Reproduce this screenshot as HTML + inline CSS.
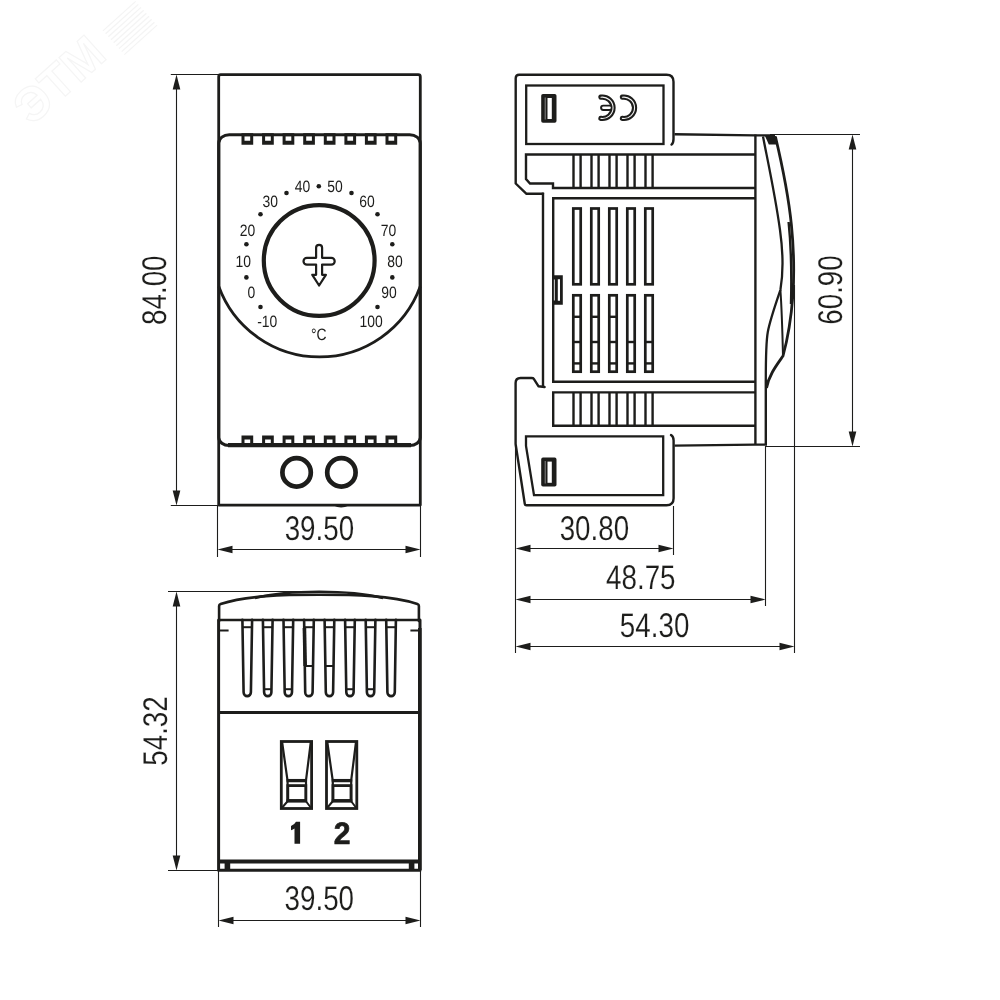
<!DOCTYPE html>
<html>
<head>
<meta charset="utf-8">
<title>Dimension drawing</title>
<style>
html,body{margin:0;padding:0;background:#fff;}
body{width:1000px;height:1000px;overflow:hidden;font-family:"Liberation Sans",sans-serif;}
svg{display:block;position:absolute;left:0;top:0;will-change:transform;}
text{font-family:"Liberation Sans",sans-serif;fill:#1d1d1b;text-rendering:geometricPrecision;}
.k{stroke:#1d1d1b;fill:none;stroke-linecap:butt;stroke-linejoin:miter;}
.r{stroke-linejoin:round;stroke-linecap:round;}
.t{stroke-width:1.1;}
.n{stroke-width:1.7;}
.m{stroke-width:2.8;}
.b{stroke-width:3.1;}
.s{stroke-width:2.4;}
.f{fill:#1d1d1b;stroke:none;}
.w{fill:#fff;}
</style>
</head>
<body>
<svg width="1000" height="1000" viewBox="0 0 1000 1000">
<rect x="0" y="0" width="1000" height="1000" fill="#fff"/>

<g transform="translate(70 92) rotate(-42)" opacity="1">
<text x="0" y="0" font-size="48" font-weight="bold" text-anchor="middle" fill="none" stroke="#f5f5f5" stroke-width="1.2" style="fill:none">ЭТМ</text>
</g>
<g transform="translate(130 28) rotate(-42)" stroke="#f4f4f4" stroke-width="1.2" fill="none">
<path d="M-22 -16 H22"/>
<path d="M-22 -12 H22"/>
<path d="M-22 -8 H22"/>
<path d="M-22 -4 H22"/>
<path d="M-22 0 H22"/>
<path d="M-22 4 H22"/>
<path d="M-22 8 H22"/>
<path d="M-22 12 H22"/>
<path d="M-22 16 H22"/>
</g>
<g id="front">
<path class="k m r" d="M218.7 505.1 V76.7 Q218.7 74.7 220.7 74.7 H418.3 Q420.3 74.7 420.3 76.7 V505.1 Z"/>
<path class="k b r" d="M218.8 437.5 V143 A10.5 8.3 0 0 1 229.3 134.7 H409.7 A10.5 8.3 0 0 1 420.2 143 V437.5 A10.5 8 0 0 1 409.7 445.5 H229.3 A10.5 8 0 0 1 218.8 437.5 Z"/>
<path class="f" fill-rule="evenodd" d="M241.5 133.2 H253.2 V144.8 H241.5 Z M244.5 136.3 V140.8 H250.2 V136.3 Z"/>
<path class="f" fill-rule="evenodd" d="M262.1 133.2 H273.8 V144.8 H262.1 Z M265.1 136.3 V140.8 H270.8 V136.3 Z"/>
<path class="f" fill-rule="evenodd" d="M282.6 133.2 H294.3 V144.8 H282.6 Z M285.6 136.3 V140.8 H291.3 V136.3 Z"/>
<path class="f" fill-rule="evenodd" d="M303.2 133.2 H314.9 V144.8 H303.2 Z M306.2 136.3 V140.8 H311.9 V136.3 Z"/>
<path class="f" fill-rule="evenodd" d="M323.8 133.2 H335.5 V144.8 H323.8 Z M326.8 136.3 V140.8 H332.5 V136.3 Z"/>
<path class="f" fill-rule="evenodd" d="M344.4 133.2 H356.1 V144.8 H344.4 Z M347.4 136.3 V140.8 H353.1 V136.3 Z"/>
<path class="f" fill-rule="evenodd" d="M364.9 133.2 H376.6 V144.8 H364.9 Z M367.9 136.3 V140.8 H373.6 V136.3 Z"/>
<path class="f" fill-rule="evenodd" d="M385.5 133.2 H397.2 V144.8 H385.5 Z M388.5 136.3 V140.8 H394.2 V136.3 Z"/>
<path class="f" fill-rule="evenodd" d="M241.5 435.4 H253.2 V447.0 H241.5 Z M244.5 439.4 V443.9 H250.2 V439.4 Z"/>
<path class="f" fill-rule="evenodd" d="M262.1 435.4 H273.8 V447.0 H262.1 Z M265.1 439.4 V443.9 H270.8 V439.4 Z"/>
<path class="f" fill-rule="evenodd" d="M282.6 435.4 H294.3 V447.0 H282.6 Z M285.6 439.4 V443.9 H291.3 V439.4 Z"/>
<path class="f" fill-rule="evenodd" d="M303.2 435.4 H314.9 V447.0 H303.2 Z M306.2 439.4 V443.9 H311.9 V439.4 Z"/>
<path class="f" fill-rule="evenodd" d="M323.8 435.4 H335.5 V447.0 H323.8 Z M326.8 439.4 V443.9 H332.5 V439.4 Z"/>
<path class="f" fill-rule="evenodd" d="M344.4 435.4 H356.1 V447.0 H344.4 Z M347.4 439.4 V443.9 H353.1 V439.4 Z"/>
<path class="f" fill-rule="evenodd" d="M364.9 435.4 H376.6 V447.0 H364.9 Z M367.9 439.4 V443.9 H373.6 V439.4 Z"/>
<path class="f" fill-rule="evenodd" d="M385.5 435.4 H397.2 V447.0 H385.5 Z M388.5 439.4 V443.9 H394.2 V439.4 Z"/>
<path class="k" stroke-width="4.2" d="M228 445.1 H411"/>
<circle class="k" cx="319.2" cy="260.5" r="55.4" stroke-width="4.2"/>
<path class="k m" d="M218.8 286.5 A107.2 107.2 0 0 0 420.2 286.5"/>
<path class="k r" stroke-width="2.2" transform="translate(0 0.7)" d="M316.1 257.1 V247.1 A3 3 0 0 1 322.1 247.1 V257.1 H331.3 A3.4 3.4 0 0 1 331.3 263.9 H322.1 V274.1 H325.9 L319.1 284.8 L312.3 274.1 H316.1 V263.9 H306.9 A3.4 3.4 0 0 1 306.9 257.1 Z"/>
<text class="" transform="translate(302.6 192.0) scale(0.85 1)" font-size="16.4" text-anchor="middle" >40</text>
<text class="" transform="translate(335 192.0) scale(0.85 1)" font-size="16.4" text-anchor="middle" >50</text>
<text class="" transform="translate(270.2 207.3) scale(0.85 1)" font-size="16.4" text-anchor="middle" >30</text>
<text class="" transform="translate(367.1 207.3) scale(0.85 1)" font-size="16.4" text-anchor="middle" >60</text>
<text class="" transform="translate(247.6 236.3) scale(0.85 1)" font-size="16.4" text-anchor="middle" >20</text>
<text class="" transform="translate(388.4 236.3) scale(0.85 1)" font-size="16.4" text-anchor="middle" >70</text>
<text class="" transform="translate(243.2 266.9) scale(0.85 1)" font-size="16.4" text-anchor="middle" >10</text>
<text class="" transform="translate(395 266.9) scale(0.85 1)" font-size="16.4" text-anchor="middle" >80</text>
<text class="" transform="translate(251.3 298.4) scale(0.85 1)" font-size="16.4" text-anchor="middle" >0</text>
<text class="" transform="translate(388.9 298.4) scale(0.85 1)" font-size="16.4" text-anchor="middle" >90</text>
<text class="" transform="translate(267.3 326.8) scale(0.85 1)" font-size="16.4" text-anchor="middle" >-10</text>
<text class="" transform="translate(371 326.8) scale(0.85 1)" font-size="16.4" text-anchor="middle" >100</text>
<text class="" transform="translate(318.8 340.4) scale(0.85 1)" font-size="16.4" text-anchor="middle" >°C</text>
<circle class="f" cx="318.8" cy="186.2" r="2.3"/>
<circle class="f" cx="286.5" cy="193" r="2.3"/>
<circle class="f" cx="351.5" cy="193" r="2.3"/>
<circle class="f" cx="260.5" cy="214.2" r="2.3"/>
<circle class="f" cx="377.5" cy="214.2" r="2.3"/>
<circle class="f" cx="246.4" cy="244.3" r="2.3"/>
<circle class="f" cx="392.3" cy="244.3" r="2.3"/>
<circle class="f" cx="246.4" cy="277.4" r="2.3"/>
<circle class="f" cx="392.3" cy="277.4" r="2.3"/>
<circle class="f" cx="260.5" cy="307" r="2.3"/>
<circle class="f" cx="377.5" cy="307" r="2.3"/>
<path class="f" d="M333.6 505.5 Q341 509.3 348.8 505.5 Z"/>
<circle class="k" cx="296.6" cy="472.4" r="14.2" stroke-width="4.7"/>
<circle class="k" cx="341.4" cy="472.4" r="14.2" stroke-width="4.7"/>
<path class="k t" d="M170.8 74.5 H219 M170.8 505.5 H219"/>
<path class="k t" d="M176.5 87.5 V492.5"/>
<path class="f" d="M176.5 74.5 L172.7 89.5 H180.3 Z"/>
<path class="f" d="M176.5 505.5 L172.7 490.5 H180.3 Z"/>
<text transform="translate(166 290.2) rotate(-90) scale(0.81 1)" font-size="34.3" text-anchor="middle" stroke="#fff" stroke-width="0.15">84.00</text>
<path class="k t" d="M217.5 505 V557 M420.5 505 V557"/>
<path class="k t" d="M230.5 549.5 H407.5"/>
<path class="f" d="M217.5 549.5 L232.5 545.7 V553.3 Z"/>
<path class="f" d="M420.5 549.5 L405.5 545.7 V553.3 Z"/>
<text class="" transform="translate(319.4 539.6) scale(0.81 1)" font-size="34.3" text-anchor="middle" stroke="#fff" stroke-width="0.15">39.50</text>
</g>
<g id="side">
<path class="k s r" d="M543 193.8 H526.5 L515.7 183.5 V78.3 Q515.7 74.8 519.2 74.8 H666.5 Q673.5 74.8 673.5 81.8 V139 Q673.5 143 671.5 144.6"/>
<path class="k s" d="M543 192.6 V386.8"/>
<rect class="k" stroke-width="2.3" x="526.2" y="85.5" width="137.3" height="58.5"/>
<rect class="f" x="541.2" y="94" width="15.3" height="28.8" rx="1.8"/>
<rect class="w" x="547.5" y="98" width="4.3" height="21"/>
<path class="k" style="stroke:#b5b5b5" stroke-width="0.7" d="M545.2 97.5 V119.5"/>
<path class="k r" stroke-width="5.2" d="M600.9 97.2 A10.7 10.7 0 1 1 600.9 118.4"/>
<path class="k r" stroke-width="5.2" d="M622.4 97.2 A10.7 10.7 0 1 1 622.4 118.4"/>
<path class="k r" stroke-width="6.2" d="M603.2 107.8 H609"/>
<path class="k r" style="stroke:#f4f4f4" stroke-width="1.1" d="M600.9 97.2 A10.7 10.7 0 1 1 600.9 118.4"/>
<path class="k r" style="stroke:#f4f4f4" stroke-width="1.1" d="M622.4 97.2 A10.7 10.7 0 1 1 622.4 118.4"/>
<path class="k r" style="stroke:#fff" stroke-width="2.6" d="M603.4 107.8 H609.5"/>
<path class="k s" d="M674.5 134.2 L755 135.4 H775"/>
<path class="k t" d="M770 134.5 H860"/>
<path class="k s" d="M755.4 154.5 H526 V179 L530 183.5 H553 V188 H755.4"/>
<path class="k s" d="M755.4 198.2 H553.2 V381.8 H755.4"/>
<path class="k s" d="M755.4 392.4 H553.2 V425.7 H755.4"/>
<path class="k s" d="M573.5 154.5 V188 M580.6 154.5 V188 M573.5 392.4 V425.7 M580.6 392.4 V425.7"/>
<rect class="k" stroke-width="2.7" x="573.3" y="208.5" width="7.4" height="75.8"/>
<rect class="k" stroke-width="2.7" x="573.3" y="295.3" width="7.4" height="76.4"/>
<path class="k s" d="M573.5 342 H580.6"/>
<path class="k s" d="M573.5 363.4 H580.6"/>
<path class="k s" d="M573.5 316.8 H580.6"/>
<path class="k s" d="M591.5 154.5 V188 M598.6 154.5 V188 M591.5 392.4 V425.7 M598.6 392.4 V425.7"/>
<rect class="k" stroke-width="2.7" x="591.3" y="208.5" width="7.4" height="75.8"/>
<rect class="k" stroke-width="2.7" x="591.3" y="295.3" width="7.4" height="76.4"/>
<path class="k s" d="M591.5 342 H598.6"/>
<path class="k s" d="M591.5 363.4 H598.6"/>
<path class="k s" d="M591.5 316.8 H598.6"/>
<path class="k s" d="M609.5 154.5 V188 M616.6 154.5 V188 M609.5 392.4 V425.7 M616.6 392.4 V425.7"/>
<rect class="k" stroke-width="2.7" x="609.3" y="208.5" width="7.4" height="75.8"/>
<rect class="k" stroke-width="2.7" x="609.3" y="295.3" width="7.4" height="76.4"/>
<path class="k s" d="M609.5 342 H616.6"/>
<path class="k s" d="M609.5 363.4 H616.6"/>
<path class="k s" d="M609.5 316.8 H616.6"/>
<path class="k s" d="M627.5 154.5 V188 M634.6 154.5 V188 M627.5 392.4 V425.7 M634.6 392.4 V425.7"/>
<rect class="k" stroke-width="2.7" x="627.3" y="208.5" width="7.4" height="75.8"/>
<rect class="k" stroke-width="2.7" x="627.3" y="295.3" width="7.4" height="76.4"/>
<path class="k s" d="M627.5 342 H634.6"/>
<path class="k s" d="M627.5 363.4 H634.6"/>
<path class="k s" d="M645.5 154.5 V188 M652.6 154.5 V188 M645.5 392.4 V425.7 M652.6 392.4 V425.7"/>
<rect class="k" stroke-width="2.7" x="645.3" y="208.5" width="7.4" height="75.8"/>
<rect class="k" stroke-width="2.7" x="645.3" y="295.3" width="7.4" height="76.4"/>
<path class="k s" d="M645.5 342 H652.6"/>
<path class="k s" d="M645.5 363.4 H652.6"/>
<path class="f" fill-rule="evenodd" d="M552 275.3 H562.8 V304.8 H552 Z M557.8 279.2 V300.8 H560 V279.2 Z"/>
<path class="k" style="stroke:#c8c8c8" stroke-width="1.1" d="M554.4 279.5 V300.5"/>
<path class="k s" d="M755.4 134.5 V444.6"/>
<path class="k s" d="M765.8 380 V444.6"/>
<path class="k s r" d="M544.6 387 L538.4 386.2 L533.8 378.8 Q533.3 378 531.5 378 H520.5 Q515.6 378 515.6 383 V444 L524.8 504 Q525 505.3 526.5 505.3 H666.5 Q673.6 505.3 673.6 498.3 V440.5 Q673.6 436.5 671 435"/>
<path class="k" stroke-width="2.3" d="M526 436.4 H663.2 V495.2 H534 L526 446 Z"/>
<rect class="f" x="541.2" y="457.6" width="15.3" height="29" rx="1.8"/>
<rect class="w" x="547.5" y="461.6" width="4.3" height="21.2"/>
<path class="k" style="stroke:#b5b5b5" stroke-width="0.7" d="M545.2 461 V483.5"/>
<path class="k s" d="M674.5 445.6 L755 444.6 H767"/>
<path class="k t" d="M765.5 446.5 H860"/>
<path class="k" stroke-width="2.3" d="M763 136.5 C767.5 160 775.2 195 780 230 C783.5 255 783 275 780.4 290 C777 300 770 320 767.8 332 C766 342 765.8 360 765.8 380"/>
<path class="k" stroke-width="2" d="M780.4 290 C781.5 305 782.5 335 783 356"/>
<path class="k" stroke-width="2.8" d="M775.4 136.5 C780.5 158 788.4 195 791.4 225 C793.9 250 794.2 275 792.9 295 C791.4 315 787.4 340 783 356 C776 366 769 375 766.5 388"/>
<path class="k" stroke-width="2.4" d="M788.6 222 C791 245 791.6 280 791 304"/>
<path class="f" d="M765 136 H775.8 L778 144.6 H768.8 Z"/>
<path class="k t" d="M852.5 147.5 V433.5"/>
<path class="f" d="M852.5 134.5 L848.7 149.5 H856.3 Z"/>
<path class="f" d="M852.5 446.5 L848.7 431.5 H856.3 Z"/>
<text transform="translate(842 290) rotate(-90) scale(0.81 1)" font-size="34.3" text-anchor="middle" stroke="#fff" stroke-width="0.15">60.90</text>
<path class="k t" d="M515.5 445 V653 M673.5 506 V555 M765.5 446 V606 M794.5 285 V653"/>
<path class="k t" d="M528.5 548.5 H660.5"/>
<path class="f" d="M515.5 548.5 L530.5 544.7 V552.3 Z"/>
<path class="f" d="M673.5 548.5 L658.5 544.7 V552.3 Z"/>
<path class="k t" d="M528.5 599.5 H752.5"/>
<path class="f" d="M515.5 599.5 L530.5 595.7 V603.3 Z"/>
<path class="f" d="M765.5 599.5 L750.5 595.7 V603.3 Z"/>
<path class="k t" d="M528.5 646.5 H781.5"/>
<path class="f" d="M515.5 646.5 L530.5 642.7 V650.3 Z"/>
<path class="f" d="M794.5 646.5 L779.5 642.7 V650.3 Z"/>
<text class="" transform="translate(594.4 540) scale(0.81 1)" font-size="34.3" text-anchor="middle" stroke="#fff" stroke-width="0.15">30.80</text>
<text class="" transform="translate(640.8 589) scale(0.81 1)" font-size="34.3" text-anchor="middle" stroke="#fff" stroke-width="0.15">48.75</text>
<text class="" transform="translate(654.6 637) scale(0.81 1)" font-size="34.3" text-anchor="middle" stroke="#fff" stroke-width="0.15">54.30</text>
</g>
<g id="bottom">
<path class="k r" stroke-width="2.6" d="M219.1 621 V606 Q219.1 604.4 220.6 603.9 C247 595.5 283 594.7 319.2 594.7 C355 594.7 391 595.5 417.4 603.9 Q418.9 604.4 418.9 606 V621"/>
<path class="k r" stroke-width="3" d="M218.6 620 V870.2 H420 V620"/>
<path class="k" stroke-width="2.5" d="M255 598 C278 592.4 298 591.8 319.2 591.8 C340 591.8 360 592.4 383 598"/>
<path class="k" stroke-width="3.6" d="M419.8 628 V870"/>
<path class="k" stroke-width="2.6" d="M218.8 620 H420.2"/>
<path class="k" stroke-width="2" d="M219 630.4 H228.6 M410.4 630.4 H420"/>
<path class="k" stroke-width="3" d="M218.8 712.4 H420.2"/>
<path class="k" stroke-width="4" d="M218.6 861.4 H420"/>
<path class="f" d="M224.6 861 H230.2 V870 H224.6 Z M408.8 861 H414.4 V870 H408.8 Z"/>
<path class="k r" stroke-width="2.6" d="M242.4 619.8 L243.6 692.3 A3.65 3.8 0 0 0 250.9 692.3 L252.1 619.8"/>
<path class="k" stroke-width="2" d="M242.4 627.2 H252.1"/>
<path class="k r" stroke-width="2.6" d="M262.9 619.8 L264.1 692.3 A3.65 3.8 0 0 0 271.4 692.3 L272.6 619.8"/>
<path class="k" stroke-width="2" d="M262.9 627.2 H272.6"/>
<path class="k" stroke-width="2" d="M264.4 689.2 H271.1"/>
<path class="k r" stroke-width="2.6" d="M283.5 619.8 L284.7 692.3 A3.65 3.8 0 0 0 292.0 692.3 L293.2 619.8"/>
<path class="k" stroke-width="2" d="M283.5 627.2 H293.2"/>
<path class="k" stroke-width="2" d="M285.0 689.2 H291.7"/>
<path class="k r" stroke-width="2.6" d="M304.1 619.8 L305.2 692.3 A3.65 3.8 0 0 0 312.6 692.3 L313.8 619.8"/>
<path class="k" stroke-width="2" d="M304.1 627.2 H313.8"/>
<path class="k" stroke-width="2" d="M305.1 666 H312.8"/>
<path class="k" stroke-width="3.6" d="M304.4 628 L305.2 666"/>
<path class="k r" stroke-width="2.6" d="M324.6 619.8 L325.8 692.3 A3.65 3.8 0 0 0 333.1 692.3 L334.3 619.8"/>
<path class="k" stroke-width="2" d="M324.6 627.2 H334.3"/>
<path class="k" stroke-width="2" d="M325.6 666 H333.3"/>
<path class="k r" stroke-width="2.6" d="M345.1 619.8 L346.3 692.3 A3.65 3.8 0 0 0 353.6 692.3 L354.8 619.8"/>
<path class="k" stroke-width="2" d="M345.1 627.2 H354.8"/>
<path class="k" stroke-width="2" d="M346.6 689.2 H353.3"/>
<path class="k r" stroke-width="2.6" d="M365.7 619.8 L366.9 692.3 A3.65 3.8 0 0 0 374.2 692.3 L375.4 619.8"/>
<path class="k" stroke-width="2" d="M365.7 627.2 H375.4"/>
<path class="k" stroke-width="2" d="M367.2 689.2 H373.9"/>
<path class="k r" stroke-width="2.6" d="M386.2 619.8 L387.4 692.3 A3.65 3.8 0 0 0 394.8 692.3 L395.9 619.8"/>
<path class="k" stroke-width="2" d="M386.2 627.2 H395.9"/>
<rect class="k" stroke-width="2.8" x="281.3" y="741.5" width="30.3" height="67"/>
<path class="k" stroke-width="2.2" d="M282.1 742 L287.5 780.4 M310.8 742 L306.0 780.4"/>
<path class="k" stroke-width="3.3" d="M286.5 780.6 H307.0"/>
<rect class="k" stroke-width="2.8" x="287.8" y="785.6" width="18" height="15.2"/>
<path class="k" stroke-width="3.4" d="M286.6 800.8 H307.0"/>
<path class="k" stroke-width="2.2" d="M287.6 780 V801 M306.0 780 V801"/>
<path class="k" stroke-width="2" d="M287.8 801 L281.8 808 M305.8 801 L311.1 808"/>
<rect class="k" stroke-width="2.8" x="326.5" y="741.5" width="30.3" height="67"/>
<path class="k" stroke-width="2.2" d="M327.3 742 L332.7 780.4 M356.0 742 L351.2 780.4"/>
<path class="k" stroke-width="3.3" d="M331.7 780.6 H352.2"/>
<rect class="k" stroke-width="2.8" x="333.0" y="785.6" width="18" height="15.2"/>
<path class="k" stroke-width="3.4" d="M331.8 800.8 H352.2"/>
<path class="k" stroke-width="2.2" d="M332.8 780 V801 M351.2 780 V801"/>
<path class="k" stroke-width="2" d="M333.0 801 L327.0 808 M351.0 801 L356.3 808"/>
<path class="f" d="M296 821.8 H300.1 V843.8 H294.5 V828.6 Q293 829.6 291 830.2 V825.9 Q294.6 824.6 296 821.8 Z"/>
<text transform="translate(342 843.8) scale(0.97 1)" font-size="31" font-weight="bold" text-anchor="middle" stroke="#1d1d1b" stroke-width="0.7">2</text>
<path class="k t" d="M168 591.5 H320 M168 870.5 H219"/>
<path class="k t" d="M176.5 604.5 V857.5"/>
<path class="f" d="M176.5 591.5 L172.7 606.5 H180.3 Z"/>
<path class="f" d="M176.5 870.5 L172.7 855.5 H180.3 Z"/>
<text transform="translate(166.5 731) rotate(-90) scale(0.81 1)" font-size="34.3" text-anchor="middle" stroke="#fff" stroke-width="0.15">54.32</text>
<path class="k t" d="M218.5 870 V927 M420.5 870 V927"/>
<path class="k t" d="M231.5 920.5 H407.5"/>
<path class="f" d="M218.5 920.5 L233.5 916.7 V924.3 Z"/>
<path class="f" d="M420.5 920.5 L405.5 916.7 V924.3 Z"/>
<text class="" transform="translate(319.3 909.7) scale(0.81 1)" font-size="34.3" text-anchor="middle" stroke="#fff" stroke-width="0.15">39.50</text>
</g>
</svg>
</body>
</html>
